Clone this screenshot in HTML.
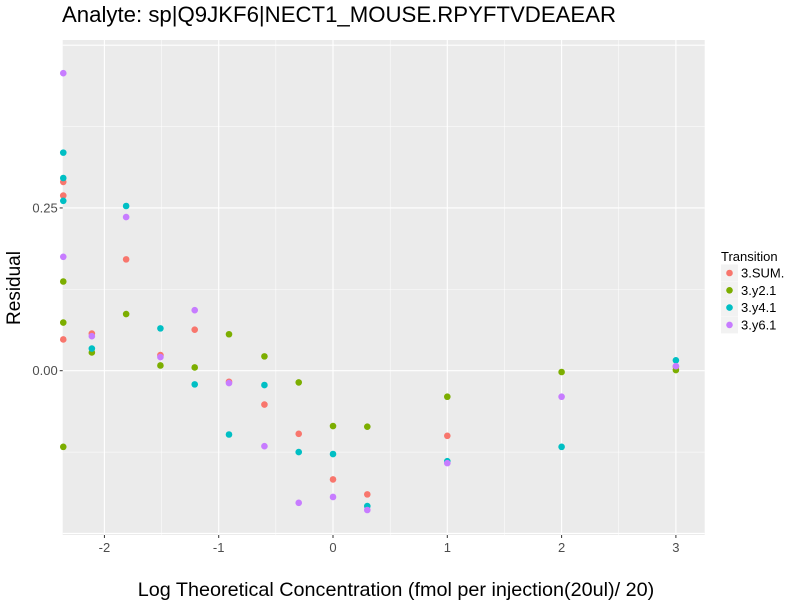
<!DOCTYPE html>
<html><head><meta charset="utf-8"><style>
body{margin:0;background:#fff;font-family:"Liberation Sans",sans-serif}
</style></head><body>
<svg width="800" height="600" xmlns="http://www.w3.org/2000/svg">
<rect width="800" height="600" fill="#fff"/>
<text x="62" y="22" font-size="22.2" fill="#000">Analyte: sp|Q9JKF6|NECT1_MOUSE.RPYFTVDEAEAR</text>
<rect x="62.7" y="40" width="642" height="495" fill="#ebebeb"/>
<g id="grid"></g>
<g id="points"></g>
<g id="axes" font-size="13" fill="#4d4d4d"></g>
<text transform="translate(20,288) rotate(-90)" text-anchor="middle" font-size="19">Residual</text>
<text x="396" y="596" text-anchor="middle" font-size="19.8">Log Theoretical Concentration (fmol per injection(20ul)/ 20)</text>
<g>
<text x="721" y="261" font-size="13">Transition</text>
<g id="legend"></g>
</g>
</svg>
<script>
const xVals=[-2.36,-2.11,-1.81,-1.51,-1.21,-0.91,-0.6,-0.3,0,0.3,1,2,3];
const series=["3.SUM.","3.y2.1","3.y4.1","3.y6.1"];
const colors=["#F8766D","#7CAE00","#00BFC4","#C77CFF"];
const sumVals=[[0.290,0.269,0.048],[0.057],[0.171],[0.024],[0.063],[-0.017],[-0.052],[-0.097],[-0.167],[-0.190],[-0.100],[],[0.006]];
const y2Vals=[[0.137,0.074,-0.117],[0.028],[0.087],[0.008],[0.005],[0.056],[0.022],[-0.018],[-0.085],[-0.086],[-0.040],[-0.002],[0.001]];
const y4Vals=[[0.335,0.296,0.261],[0.034],[0.253],[0.065],[-0.021],[-0.098],[-0.022],[-0.125],[-0.128],[-0.208],[-0.139],[-0.117],[0.016]];
const y6Vals=[[0.457,0.175],[0.053],[0.236],[0.021],[0.093],[-0.019],[-0.116],[-0.203],[-0.194],[-0.214],[-0.142],[-0.040],[0.007]];
const xTicks=[-2,-1,0,1,2,3];
const xTickLabels=["-2","-1","0","1","2","3"];
const yTicks=[0,0.25];
const yTickLabels=["0.00","0.25"];
const L=62.7,R=704.7,T=40,B=535;
const xMin=-2.365,xMax=3.252,yMin=-0.2524,yMax=0.508;
const xs=v=>L+(v-xMin)/(xMax-xMin)*(R-L);
const ys=v=>B-(v-yMin)/(yMax-yMin)*(B-T);
const NS="http://www.w3.org/2000/svg";
function mk(tag,attrs,parent){const e=document.createElementNS(NS,tag);for(const k in attrs)e.setAttribute(k,attrs[k]);parent.appendChild(e);return e;}
const grid=document.getElementById('grid');
for(let i=-2.5;i<=3;i+=0.5){const px=xs(i);if(px<L||px>R)continue;
const l=mk('line',{x1:px,x2:px,y1:T,y2:B,stroke:'#fff','stroke-width':Number.isInteger(i)?1.1:0.5},grid);

}
for(let v=-0.25;v<=0.5;v+=0.125){const py=ys(v);if(py<T||py>B)continue;
const l=mk('line',{x1:L,x2:R,y1:py,y2:py,stroke:'#fff','stroke-width':(Math.abs(v%0.25)<1e-9)?1.1:0.5},grid);

}
const axes=document.getElementById('axes');
xTicks.forEach((t,i)=>{const px=xs(t);
const tk=mk('line',{x1:px,x2:px,y1:B,y2:B+3,stroke:'#333'},axes);


const tx=mk('text',{x:px,y:B+17,'text-anchor':'middle'},axes);tx.textContent=xTickLabels[i];

});
yTicks.forEach((t,i)=>{const py=ys(t);
const tk=mk('line',{x1:L-3,x2:L,y1:py,y2:py,stroke:'#333'},axes);


const tx=mk('text',{x:L-5,y:py+4.5,'text-anchor':'end'},axes);tx.textContent=yTickLabels[i];

});
const pts=document.getElementById('points');
[sumVals,y2Vals,y4Vals,y6Vals].forEach((s,si)=>{s.forEach((arr,xi)=>{arr.forEach(v=>{
const c=mk('circle',{cx:xs(xVals[xi]),cy:ys(v),r:3.3,fill:colors[si]},pts);

});});});
const lg=document.getElementById('legend');
series.forEach((s,i)=>{const y=273+i*17.3;
const bg=mk('rect',{x:721,y:y-8.5,width:17,height:17,fill:'#f2f2f2'},lg);


const c=mk('circle',{cx:729.5,cy:y,r:3.3,fill:colors[i]},lg);


const t=mk('text',{x:741,y:y+4.5,'font-size':13},lg);t.textContent=s;

});
</script>
</body></html>
